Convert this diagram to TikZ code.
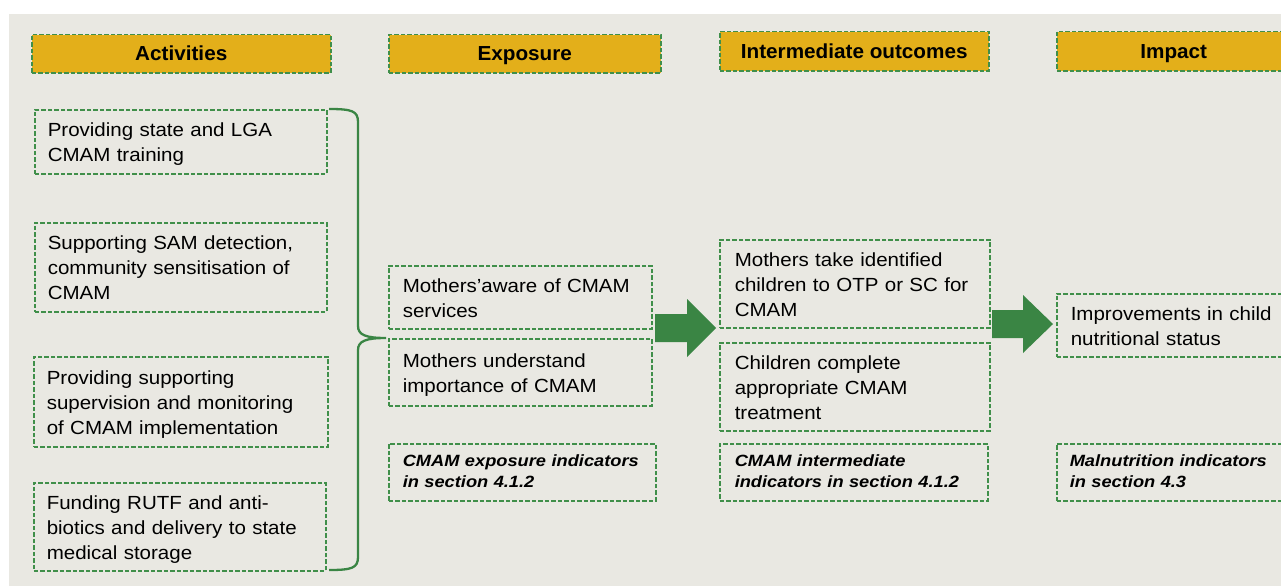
\documentclass[tikz,border=0pt]{standalone}
\usepackage{fontspec}
\setmainfont{Liberation Sans}
\newfontfamily\bodyfont[FakeStretch=1.08]{Liberation Sans}
\newfontfamily\notefont[FakeStretch=1.12]{Liberation Sans}
\newfontfamily\headfont[FakeStretch=1.02]{Liberation Sans}

\definecolor{bgpaper}{RGB}{233,232,226}
\definecolor{boxgreen}{RGB}{64,143,74}
\definecolor{arrowgreen}{RGB}{58,133,68}
\definecolor{headgold}{RGB}{227,175,26}

\tikzset{
  frame/.style={draw=boxgreen, line width=1.5pt, dash pattern=on 4.5pt off 2pt},
  head/.style={frame, fill=headgold, anchor=north west, align=center, inner sep=0pt,
    text height=17pt, text depth=3pt,
    font=\headfont\bfseries\fontsize{20.3}{24}\selectfont},
  body/.style={frame, anchor=north west, align=left, inner xsep=13pt, inner ysep=0pt,
    font=\bodyfont\fontsize{19}{25}\selectfont,
    execute at begin node={\rule{0pt}{20pt}},
    execute at end node={\rule[-5pt]{0pt}{5pt}}},
  note/.style={frame, anchor=north west, align=left, inner xsep=14pt, inner ysep=0pt,
    font=\notefont\bfseries\itshape\fontsize{16.3}{21}\selectfont,
    execute at begin node={\rule{0pt}{14.5pt}},
    execute at end node={\rule[-5.5pt]{0pt}{5.5pt}}},
  brace/.style={draw=arrowgreen, line width=2.3pt},
  blockarrow/.style={fill=arrowgreen},
}

\begin{document}
\begin{tikzpicture}[x=1pt, y=-1pt]
  \useasboundingbox (0,0) rectangle (1281,586);
  \clip (0,0) rectangle (1281,586);
  \fill[white] (0,0) rectangle (1281,586);
  \fill[bgpaper] (9,14) rectangle (1281,586);

  % column headers
  \node[head, minimum width=299pt, minimum height=38pt] (hact) at (31,34) {Activities};
  \node[head, minimum width=272pt, minimum height=38pt] (hexp) at (388,34) {Exposure};
  \node[head, minimum width=269pt, minimum height=39pt] (hint) at (719,31) {Intermediate outcomes};
  \node[head, minimum width=234pt, minimum height=39pt] (himp) at (1056,31) {Impact};

  % activities
  \node[body, text width=266pt, minimum height=64pt] (a1) at (34,109)
    {Providing state and LGA\\CMAM training};
  \node[body, text width=266pt, minimum height=89pt] (a2) at (34,222)
    {Supporting SAM detection,\\community sensitisation of\\CMAM};
  \node[body, text width=268pt, minimum height=90pt] (a3) at (33,356)
    {Providing supporting\\supervision and monitoring\\of CMAM implementation};
  \node[body, text width=266pt, minimum height=88pt] (a4) at (33,482)
    {Funding RUTF and anti-\\biotics and delivery to state\\medical storage};

  % exposure
  \node[body, inner xsep=14pt, text width=235pt, minimum height=63pt] (e1) at (388,265)
    {Mothers’aware of CMAM\\services};
  \node[body, inner xsep=14pt, text width=235pt, minimum height=67pt] (e2) at (388,338)
    {Mothers understand\\importance of CMAM};
  \node[note, text width=239pt, minimum height=57pt] (e3) at (388,443)
    {CMAM exposure indicators\\in section 4.1.2};

  % intermediate outcomes
  \node[body, inner xsep=15pt, text width=240pt, minimum height=88pt] (i1) at (719,239)
    {Mothers take identified\\children to OTP or SC for\\CMAM};
  \node[body, inner xsep=15pt, text width=240pt, minimum height=88pt] (i2) at (719,342)
    {Children complete\\appropriate CMAM\\treatment};
  \node[note, inner xsep=15pt, text width=238pt, minimum height=57pt] (i3) at (719,443)
    {CMAM intermediate\\indicators in section 4.1.2};

  % impact
  \node[body, inner xsep=14pt, text width=206pt, minimum height=63pt] (m1) at (1056,293)
    {Improvements in child\\nutritional status};
  \node[note, inner xsep=13pt, text width=208pt, minimum height=57pt] (m2) at (1056,443)
    {Malnutrition indicators\\in section 4.3};

  % brace gathering the activities
  \coordinate (bt) at (329,109);
  \coordinate (bb) at (329,570);
  \coordinate (bm) at (386,338);
  \draw[brace] (bt) .. controls (352,109) and (358,111) .. (358,122)
    -- (358,326) .. controls (358,335) and (366,338) .. (bm)
    .. controls (366,338) and (358,341) .. (358,350)
    -- (358,557) .. controls (358,568) and (352,570) .. (bb);

  % block arrows between the stages
  \fill[blockarrow] (655,314) -- (687,314) -- (687,299) -- (716,328)
    -- (687,357) -- (687,342) -- (655,342) -- cycle;
  \fill[blockarrow] (992,310) -- (1023,310) -- (1023,295) -- (1053,324)
    -- (1023,353) -- (1023,338) -- (992,338) -- cycle;
\end{tikzpicture}
\end{document}
